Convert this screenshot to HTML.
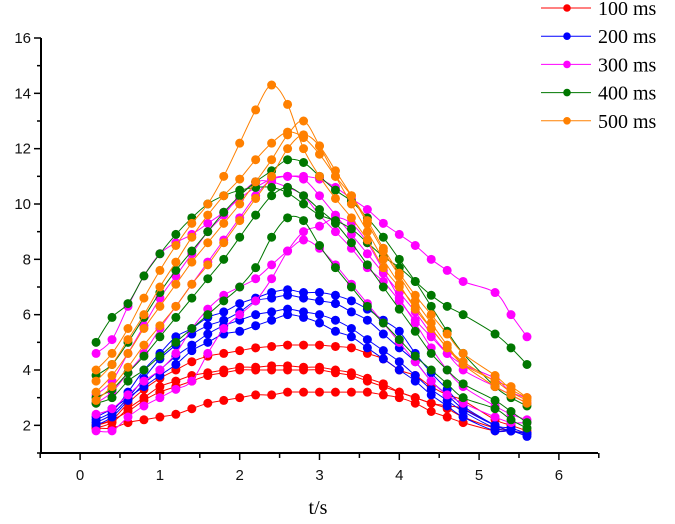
<!DOCTYPE html>
<html><head><meta charset="utf-8"><style>
html,body{margin:0;padding:0;background:#fff;}
svg{display:block;}
.tk{font-family:"Liberation Sans",Arial,sans-serif;font-size:15px;fill:#111;}
.lg{font-family:"Liberation Serif",serif;font-size:20px;fill:#000;}
</style></head><body>
<svg id="chart" width="675" height="524" viewBox="0 0 675 524" xmlns="http://www.w3.org/2000/svg">
<g id="axes"></g><g id="series"></g><g id="legend"></g>
<text x="318" y="514" text-anchor="middle" style="font-family:'Liberation Serif',serif;font-size:20px">t/s</text>
</svg>
<script>
const times=[0.2,0.4,0.6,0.8,1.0,1.2,1.4,1.6,1.8,2.0,2.2,2.4,2.6,2.8,3.0,3.2,3.4,3.6,3.8,4.0,4.2,4.4,4.6,4.8,5.2,5.4,5.6];
const seriesNames=["100 ms","200 ms","300 ms","400 ms","500 ms"];
const seriesColors=["#ff0000","#0000ff","#ff00ff","#007700","#ff8000"];
const red1=[2.0,2.2,2.8,3.3,3.7,4.0,4.3,4.5,4.6,4.7,4.8,4.85,4.9,4.9,4.9,4.85,4.8,4.6,4.4,4.0,3.8,3.4,3.1,2.9,2.2,2.0,1.8];
const red2=[1.9,2.1,2.6,3.0,3.4,3.6,3.8,3.9,4.0,4.1,4.1,4.15,4.15,4.1,4.1,4.0,3.9,3.7,3.5,3.2,3.0,2.8,2.7,2.6,2.0,1.8,1.7];
const red3=[2.0,2.2,2.5,2.9,3.2,3.4,3.6,3.8,3.9,4.0,4.0,4.0,4.0,4.0,4.0,3.9,3.8,3.6,3.4,3.2,3.0,2.8,2.6,2.3,1.9,1.8,1.7];
const red4=[1.9,1.9,2.1,2.2,2.3,2.4,2.6,2.8,2.9,3.0,3.1,3.1,3.2,3.2,3.2,3.2,3.2,3.2,3.1,3.0,2.8,2.5,2.3,2.1,1.8,1.8,1.7];
const blue1=[2.2,2.5,3.2,4.0,4.6,5.2,5.5,5.9,6.1,6.4,6.6,6.8,6.9,6.8,6.8,6.7,6.5,6.2,5.8,5.4,4.6,3.9,3.3,2.7,2.0,1.8,1.7];
const blue2=[2.1,2.4,3.0,3.7,4.4,4.9,5.3,5.6,5.8,6.1,6.5,6.6,6.7,6.6,6.5,6.4,6.1,5.8,5.3,4.8,4.3,3.6,3.1,2.6,2.0,1.9,1.7];
const blue3=[2.0,2.3,2.9,3.5,4.0,4.5,4.9,5.3,5.6,5.8,6.0,6.1,6.2,6.1,6.0,5.8,5.5,5.1,4.7,4.3,3.8,3.3,2.9,2.5,1.9,1.8,1.7];
const blue4=[2.3,2.6,3.0,3.4,3.8,4.2,4.7,5.0,5.3,5.4,5.6,5.8,6.0,5.9,5.7,5.4,5.2,4.8,4.4,4.0,3.6,3.1,2.7,2.3,1.8,1.8,1.6];
const mag1=[4.6,5.1,6.3,7.4,8.2,8.6,8.9,9.3,9.7,10.2,10.6,10.9,11.0,11.0,10.9,10.6,10.2,9.8,9.3,8.9,8.5,8.0,7.6,7.2,6.8,6.0,5.2];
const mag2=[3.1,3.6,4.6,5.6,6.6,7.4,8.2,9.0,9.6,10.3,10.8,10.8,10.6,10.3,9.6,9.0,8.4,7.7,7.2,6.5,5.8,5.2,4.6,4.2,3.7,3.2,3.0];
const mag3=[2.8,3.2,3.9,4.6,5.5,6.3,7.1,7.9,8.7,9.5,10.3,10.9,11.0,10.9,10.3,9.6,8.9,8.2,7.5,6.8,6.1,5.3,4.6,4.0,3.4,3.1,2.8];
const mag4=[2.4,2.6,3.1,3.6,4.0,4.6,5.5,6.2,6.7,7.0,7.3,7.8,8.3,8.7,8.4,7.8,7.1,6.4,5.7,5.0,4.3,3.6,3.1,2.8,2.3,2.1,2.1];
const mag5=[1.8,1.8,2.3,2.7,3.0,3.3,3.6,4.6,5.5,6.0,6.5,7.3,8.3,9.0,9.2,9.5,9.3,8.6,7.6,6.6,5.7,4.8,4.0,3.4,2.7,2.4,2.2];
const green1=[5.0,5.9,6.4,7.4,8.2,8.9,9.5,10.0,10.3,10.5,10.6,10.6,10.4,10.0,9.6,9.4,9.1,8.6,8.1,7.7,7.2,6.7,6.3,6.0,5.3,4.8,4.2];
const green2=[3.8,4.2,5.0,5.9,6.8,7.6,8.3,9.0,9.7,10.3,10.8,11.2,11.6,11.5,11.0,10.5,10.1,9.5,8.8,8.0,7.2,6.3,5.4,4.6,3.4,3.0,2.7];
const green3=[3.0,3.3,3.9,4.5,5.2,5.9,6.6,7.3,8.0,8.8,9.6,10.3,10.6,10.3,9.8,9.3,8.6,7.8,7.0,6.2,5.4,4.6,4.0,3.5,2.9,2.5,2.1];
const green4=[2.8,3.0,3.6,4.0,4.5,5.0,5.5,6.0,6.5,7.0,7.7,8.8,9.5,9.4,8.5,7.7,7.0,6.3,5.7,5.1,4.5,4.0,3.5,3.0,2.6,2.2,1.9];
const orange1=[4.0,4.6,5.5,6.6,7.6,8.5,9.3,10.0,11.0,12.2,13.4,14.3,13.6,12.0,11.0,10.2,9.5,8.7,7.7,7.0,6.3,5.5,4.8,4.3,3.6,3.4,3.0];
const orange2=[3.6,4.2,5.1,6.0,7.0,7.9,8.8,9.6,10.3,10.9,11.6,12.2,12.6,12.4,11.8,11.0,10.3,9.4,8.4,7.5,6.7,6.0,5.3,4.6,3.8,3.3,3.0];
const orange3=[3.2,3.8,4.6,5.5,6.3,7.1,7.9,8.6,9.3,10.0,10.8,11.6,12.5,13.0,12.1,11.0,10.0,9.0,8.0,7.1,6.2,5.5,4.8,4.2,3.6,3.2,2.9];
const orange4=[2.9,3.4,4.1,4.9,5.6,6.3,7.1,7.8,8.6,9.4,10.2,11.0,12.0,12.5,12.1,11.2,10.3,9.3,8.3,7.4,6.5,5.7,4.9,4.2,3.4,3.1,2.8];
const groups=[[red1,red2,red3,red4],[blue1,blue2,blue3,blue4],[mag1,mag2,mag3,mag4,mag5],[green1,green2,green3,green4],[orange1,orange2,orange3,orange4]];
const xTicks=[0,1,2,3,4,5,6];
const yTicks=[2,4,6,8,10,12,14,16];

const NS="http://www.w3.org/2000/svg";
const X0=41,X1=598,Y0=453,Y1=38,xmin=-0.49,xmax=6.49,ymin=1,ymax=16;
function xs(t){return X0+(t-xmin)/(xmax-xmin)*(X1-X0);}
function ys(v){return Y0-(v-ymin)/(ymax-ymin)*(Y0-Y1);}
function mk(tag,attrs,parent){const e=document.createElementNS(NS,tag);for(const k in attrs)e.setAttribute(k,attrs[k]);parent.appendChild(e);return e;}
const axes=document.getElementById('axes');
let a=mk('line',{x1:X0,y1:Y1,x2:X0,y2:Y0+1,stroke:'#000','stroke-width':2},axes);


a=mk('line',{x1:X0-1,y1:Y0,x2:X1,y2:Y0,stroke:'#000','stroke-width':2},axes);


for(let v=1;v<=16;v++){const major=v%2===0;mk('line',{x1:X0-(major?7:4),y1:ys(v),x2:X0,y2:ys(v),stroke:'#000','stroke-width':1.5},axes);}
yTicks.forEach(v=>{const t=mk('text',{x:31,y:ys(v)+5,'text-anchor':'end',class:'tk'},axes);t.textContent=v;

});
for(let k=-0.5;k<=6.5;k+=0.5){const major=Math.abs(k-Math.round(k))<1e-6;mk('line',{x1:xs(k),y1:Y0,x2:xs(k),y2:Y0+(major?7:5),stroke:'#000','stroke-width':1.5},axes);}
xTicks.forEach(v=>{const t=mk('text',{x:xs(v),y:480,'text-anchor':'middle',class:'tk'},axes);t.textContent=v;

});
function spline(pts){let d='M'+pts[0][0]+','+pts[0][1];for(let i=0;i<pts.length-1;i++){const p0=pts[Math.max(i-1,0)],p1=pts[i],p2=pts[i+1],p3=pts[Math.min(i+2,pts.length-1)];
const c1=[p1[0]+(p2[0]-p0[0])/6,p1[1]+(p2[1]-p0[1])/6],c2=[p2[0]-(p3[0]-p1[0])/6,p2[1]-(p3[1]-p1[1])/6];
d+=' C'+c1[0].toFixed(1)+','+c1[1].toFixed(1)+' '+c2[0].toFixed(1)+','+c2[1].toFixed(1)+' '+p2[0].toFixed(1)+','+p2[1].toFixed(1);}return d;}
const sg=document.getElementById('series');
groups.forEach((grp,gi)=>{const col=seriesColors[gi];
grp.forEach((vals,si)=>{const g=mk('g',{},sg);


const pts=vals.map((v,i)=>[xs(times[i]),ys(v)]);
mk('path',{d:spline(pts),fill:'none',stroke:col,'stroke-width':1},g);
pts.forEach(p=>{const c=mk('circle',{cx:p[0],cy:p[1],r:4.5,fill:col},g);

});});});
const lg=document.getElementById('legend');
seriesNames.forEach((n,i)=>{const y=8+i*28.2;const g=mk('g',{},lg);


mk('line',{x1:541,y1:y,x2:591,y2:y,stroke:seriesColors[i],'stroke-width':1},g);
mk('circle',{cx:567,cy:y,r:3.8,fill:seriesColors[i]},g);
const t=mk('text',{x:598,y:y+7,class:'lg'},g);t.textContent=n;});
</script>
</body></html>
